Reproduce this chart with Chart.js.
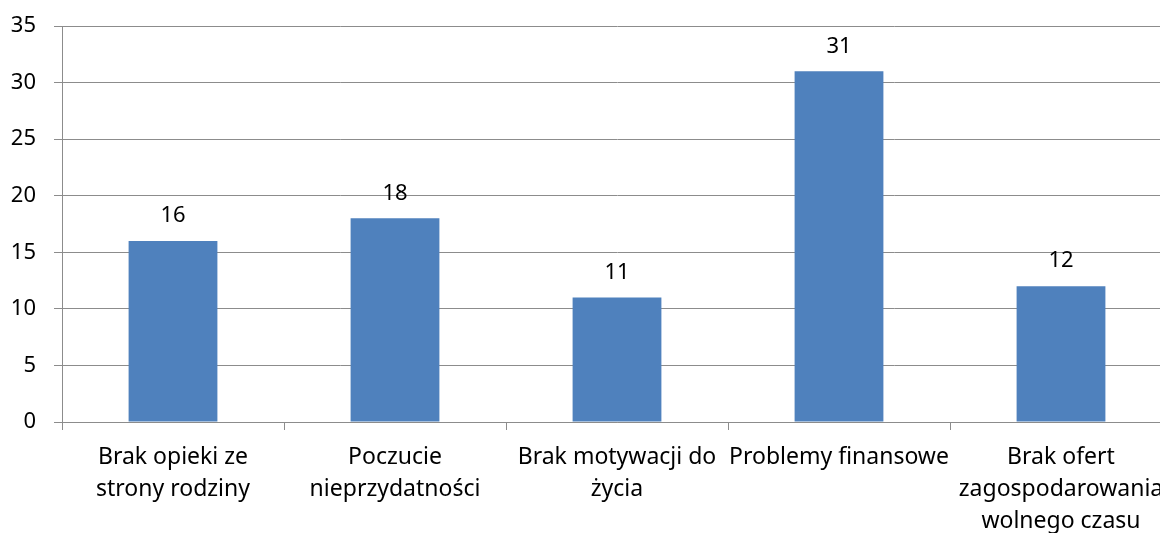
<!DOCTYPE html>
<html>
<head>
<meta charset="utf-8">
<script src="https://cdn.jsdelivr.net/npm/chart.js@4/dist/chart.umd.min.js"></script>
<style>
  html, body { margin: 0; padding: 0; background: #fff; overflow: hidden; }
  #wrap { width: 1180px; height: 533px; }
</style>
</head>
<body>
<div id="wrap"><canvas id="chart" width="1180" height="533"></canvas></div>
<script>
// Category labels, already split into lines the way they wrap in the picture
const categories = [
  ["Brak opieki ze", "strony rodziny"],
  ["Poczucie", "nieprzydatności"],
  ["Brak motywacji do", "życia"],
  ["Problemy finansowe"],
  ["Brak ofert", "zagospodarowania", "wolnego czasu"]
]
const counts = [16, 18, 11, 31, 12]
const yTicks = { min: 0, max: 35, step: 5 }

const FAMILY = "'Noto Sans', sans-serif"
const GRID = "#8c8c8c"

// Value labels drawn above each bar
const valueLabels = {
  id: "valueLabels",
  afterDatasetsDraw(chart) {
    const { ctx } = chart
    const meta = chart.getDatasetMeta(0)
    ctx.save()
    ctx.font = `22px ${FAMILY}`
    ctx.fillStyle = "#000"
    ctx.textAlign = "center"
    ctx.textBaseline = "middle"
    meta.data.forEach((bar, i) => {
      ctx.fillText(String(counts[i]), bar.x, bar.y - 25)
    })
    ctx.restore()
  }
}

new Chart(document.getElementById("chart"), {
  type: "bar",
  data: {
    labels: categories,
    datasets: [{
      data: counts,
      backgroundColor: "#4f81bd",
      borderWidth: 0,
      categoryPercentage: 1,
      barPercentage: 0.4
    }]
  },
  options: {
    responsive: false,
    animation: false,
    layout: { padding: { top: 26, right: 8, left: 0, bottom: 0 } },
    plugins: {
      legend: { display: false },
      tooltip: { enabled: false }
    },
    scales: {
      x: {
        afterFit(scale) { scale.height = 111 },
        grid: { drawOnChartArea: false, drawTicks: true, tickLength: 8, color: GRID, offset: true },
        border: { color: GRID, width: 1 },
        ticks: {
          color: "#000",
          font: { family: FAMILY, size: 23, lineHeight: 32 / 23 },
          padding: 11,
          maxRotation: 0,
          autoSkip: false
        }
      },
      y: {
        min: yTicks.min,
        max: yTicks.max,
        // tick padding otherwise also pushes the plot area down
        afterFit(scale) {
          scale.width = 62
          scale.paddingTop = 0
          scale.paddingBottom = 0
        },
        grid: { color: GRID, tickLength: 8 },
        border: { color: GRID, width: 1 },
        ticks: {
          stepSize: yTicks.step,
          color: "#000",
          font: { family: FAMILY, size: 22 },
          padding: 18
        }
      }
    }
  },
  plugins: [valueLabels]
})
</script>
</body>
</html>
